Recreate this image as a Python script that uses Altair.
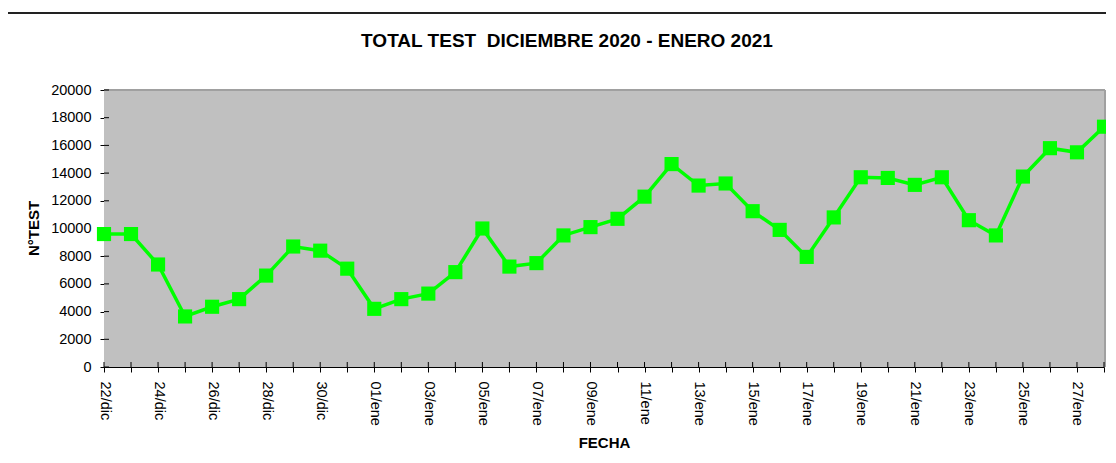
import altair as alt
import pandas as pd

fechas = ["22/dic", "23/dic", "24/dic", "25/dic", "26/dic", "27/dic", "28/dic", "29/dic", "30/dic", "31/dic",
          "01/ene", "02/ene", "03/ene", "04/ene", "05/ene", "06/ene", "07/ene", "08/ene", "09/ene", "10/ene",
          "11/ene", "12/ene", "13/ene", "14/ene", "15/ene", "16/ene", "17/ene", "18/ene", "19/ene", "20/ene",
          "21/ene", "22/ene", "23/ene", "24/ene", "25/ene", "26/ene", "27/ene", "28/ene"]
tests = [9600, 9600, 7400, 3650, 4350, 4900, 6600, 8700, 8400, 7100,
         4200, 4900, 5300, 6850, 10000, 7250, 7500, 9500, 10100, 10700,
         12300, 14650, 13100, 13250, 11250, 9900, 7950, 10800, 13700, 13650,
         13150, 13700, 10600, 9500, 13750, 15800, 15500, 17350]
etiquetas_x = ["22/dic", "24/dic", "26/dic", "28/dic", "30/dic", "01/ene", "03/ene", "05/ene", "07/ene",
               "09/ene", "11/ene", "13/ene", "15/ene", "17/ene", "19/ene", "21/ene", "23/ene", "25/ene", "27/ene"]
ticks_y = [0, 2000, 4000, 6000, 8000, 10000, 12000, 14000, 16000, 18000, 20000]
titulo = "TOTAL TEST\u00a0 DICIEMBRE 2020 - ENERO 2021"

FONT = "Liberation Sans"
GREEN = "#00FF00"
W, H = 1000, 277

df = pd.DataFrame({"fecha": fechas, "tests": tests})
df_y = pd.DataFrame({"tests": ticks_y})
one = pd.DataFrame({"t": [titulo]})

label_str = "|" + "|".join(etiquetas_x) + "|"

x_axis = alt.Axis(
    title="FECHA", labelAngle=90, labelFont=FONT, labelFontSize=14.5, labelColor="black",
    labelExpr="indexof('" + label_str + "', '|' + datum.label + '|') >= 0 ? datum.label : ''",
    labelOverlap=False, labelPadding=9, tickSize=5, tickColor="black", domainColor="black",
    titleFont=FONT, titleFontSize=15, titleFontWeight="bold", titleColor="black",
    titleX=500, titleY=80, titleBaseline="alphabetic", titleAlign="center",
)
y_axis = alt.Axis(
    title="N°TEST", values=ticks_y, format="d", grid=False, labelFont=FONT, labelFontSize=14.5,
    labelColor="black", labelPadding=9, tickSize=4, tickColor="black", domainColor="black",
    titleFont=FONT, titleFontSize=15, titleFontWeight="bold", titleColor="black",
    titleAngle=-90, titleX=-66, titleY=138, titleBaseline="alphabetic", titleAlign="center",
)
x_scale = alt.Scale(type="point", padding=0)
y_scale = alt.Scale(domain=[0, 20000], nice=False)

def X():
    return alt.X("fecha:O", sort=fechas, scale=x_scale, axis=x_axis)

def Y():
    return alt.Y("tests:Q", scale=y_scale, axis=y_axis)

bg = alt.Chart(one).mark_rect(fill="#C0C0C0").encode(
    x=alt.value(0), x2=alt.value(W), y=alt.value(0), y2=alt.value(H))
line = alt.Chart(df).mark_line(color=GREEN, strokeWidth=3.5).encode(x=X(), y=Y())
pts = alt.Chart(df).mark_point(shape="square", filled=True, size=200, color=GREEN, opacity=1).encode(
    x=X(), y=Y())

xt_in = alt.Chart(df).mark_rule(color="black", strokeWidth=1).encode(
    x=X(), y=alt.value(H - 5), y2=alt.value(H))
yt_in = alt.Chart(df_y).mark_rule(color="black", strokeWidth=1).encode(
    y=Y(), x=alt.value(0), x2=alt.value(5))

top_b = alt.Chart(one).mark_rule(color="#A0A0A0", strokeWidth=2).encode(
    x=alt.value(0), x2=alt.value(W + 1), y=alt.value(0))
right_b = alt.Chart(one).mark_rule(color="#A0A0A0", strokeWidth=2).encode(
    x=alt.value(W + 1), y=alt.value(0), y2=alt.value(H))
outer_top = alt.Chart(one).mark_rule(color="#222222", strokeWidth=2).encode(
    x=alt.value(-97), x2=alt.value(1010), y=alt.value(-77))
outer_left = alt.Chart(one).mark_rule(color="#222222", strokeWidth=2).encode(
    x=alt.value(-97), y=alt.value(-77), y2=alt.value(400))
title_txt = alt.Chart(one).mark_text(
    font=FONT, fontSize=19, fontWeight="bold", color="black", align="center", baseline="alphabetic"
).encode(x=alt.value(463), y=alt.value(-43), text="t:N")

chart = alt.layer(bg, top_b, right_b, xt_in, yt_in, line, pts, outer_top, outer_left, title_txt).properties(
    width=W, height=H,
    autosize=alt.AutoSizeParams(type="none"),
    padding={"left": 96, "top": 82, "right": 2, "bottom": 85},
).configure_view(fill="#C0C0C0", stroke=None).configure(background="white")

chart.save("out.html", embed_options={"renderer": "svg", "actions": False})
